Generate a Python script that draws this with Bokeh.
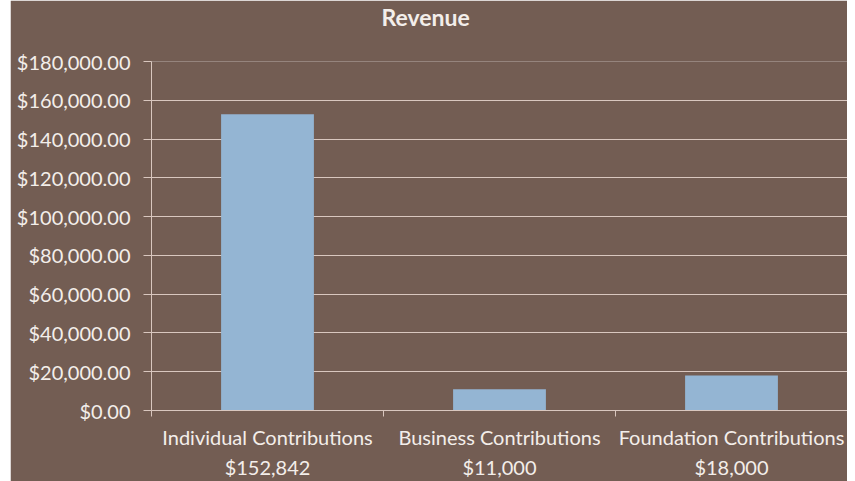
from bokeh.plotting import figure
from bokeh.layouts import row
from bokeh.models import ColumnDataSource, FixedTicker, NumeralTickFormatter, Range1d, Spacer
from bokeh.embed import file_html
from bokeh.resources import INLINE

title_text = "Revenue"
categories = ["Individual Contributions", "Business Contributions", "Foundation Contributions"]
amount_labels = ["$152,842", "$11,000", "$18,000"]
values = [152842, 11000, 18000]
y_ticks = [0, 20000, 40000, 60000, 80000, 100000, 120000, 140000, 160000, 180000]

BG = "#735d53"
BAR = "#94b5d3"
GRID = "#d9c7bf"
TXT = "#f3eeea"
FONT = "Lato"

xs = [i + 0.5 for i in range(len(categories))]
src = ColumnDataSource(dict(x=xs, top=values))

xr = Range1d(0, len(categories))
yr = Range1d(0, max(y_ticks))

p = figure(width=837, height=481, output_backend="svg", toolbar_location=None,
           x_range=xr, y_range=yr,
           min_border_left=141, min_border_right=0, min_border_top=50, min_border_bottom=69)
p.background_fill_color = BG
p.border_fill_color = BG
p.outline_line_color = None

p.vbar(x="x", top="top", width=0.4, source=src, fill_color=BAR, line_color=None)

# empty trailing lines lift the title towards the top edge, as in the reference
p.title.text = title_text + "\n \n "
p.title.text_color = TXT
p.title.text_font = FONT
p.title.text_font_size = "23px"
p.title.text_font_style = "bold"
p.title.text_line_height = 0.55
p.title.align = "left"
p.title.offset = 230
p.title.standoff = 0

# y axis
p.yaxis.ticker = FixedTicker(ticks=y_ticks)
p.yaxis.formatter = NumeralTickFormatter(format="$0,0.00")
p.yaxis.major_label_text_color = TXT
p.yaxis.major_label_text_font = FONT
p.yaxis.major_label_text_font_size = "20px"
p.yaxis.axis_line_color = GRID
p.yaxis.major_tick_line_color = GRID
p.yaxis.major_tick_out = 8
p.yaxis.major_tick_in = 0
p.yaxis.minor_tick_line_color = None
p.yaxis.major_label_standoff = 13

# x axis
p.xaxis.ticker = FixedTicker(ticks=xs, minor_ticks=list(range(0, len(categories) + 1)))
p.xaxis.major_label_overrides = {x: f"{c}\n{a}" for x, c, a in zip(xs, categories, amount_labels)}
p.xaxis.major_label_text_color = TXT
p.xaxis.major_label_text_font = FONT
p.xaxis.major_label_text_font_size = "20px"
p.xaxis.major_label_text_line_height = 1.25
p.xaxis.axis_line_color = GRID
p.xaxis.major_tick_line_color = None
p.xaxis.major_tick_out = 6
p.xaxis.minor_tick_line_color = GRID
p.xaxis.minor_tick_out = 6
p.xaxis.minor_tick_in = 0
p.xaxis.major_label_standoff = 8

p.xgrid.grid_line_color = None
p.ygrid.grid_line_color = GRID
p.ygrid.grid_line_width = 1

layout = row(Spacer(width=10), p, spacing=0)
open("out.html", "w").write(file_html(layout, INLINE))
